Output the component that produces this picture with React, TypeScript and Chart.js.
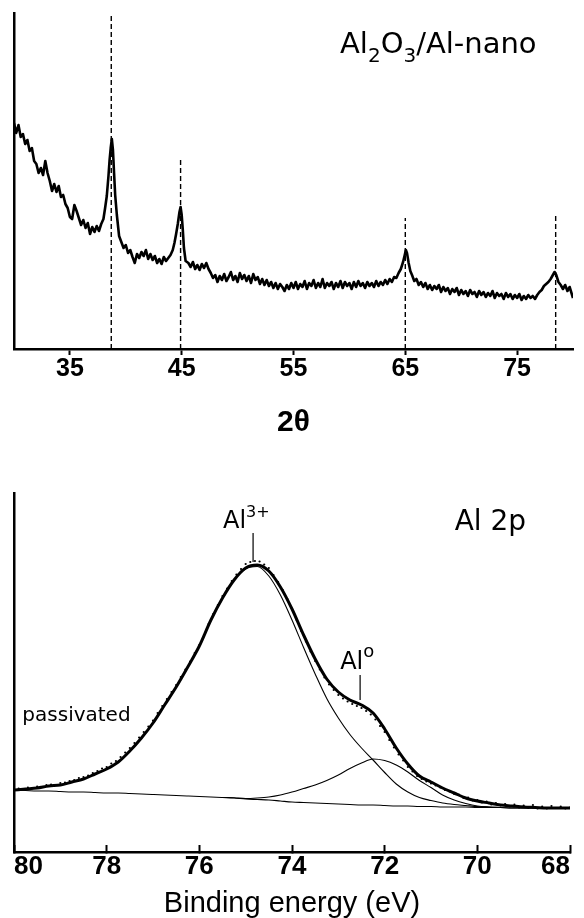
import { useEffect, useRef } from "react";
import { Chart, registerables } from "chart.js";

Chart.register(...registerables);

// ---------- XRD pattern (top) ----------
const XRD_2THETA = [
  30.0, 30.2, 30.4, 30.6, 30.8, 31.0, 31.2, 31.4, 31.6, 31.8,
  32.0, 32.2, 32.4, 32.6, 32.8, 33.0, 33.2, 33.4, 33.6, 33.8,
  34.0, 34.2, 34.4, 34.6, 34.8, 35.0, 35.2, 35.4, 35.6, 35.8,
  36.0, 36.2, 36.4, 36.6, 36.8, 37.0, 37.2, 37.4, 37.6, 37.8,
  38.0, 38.15, 38.3, 38.45, 38.55, 38.65, 38.75, 38.85, 38.95, 39.05,
  39.2, 39.4, 39.6, 39.8, 40.0, 40.2, 40.4, 40.6, 40.8, 41.0,
  41.2, 41.4, 41.6, 41.8, 42.0, 42.2, 42.4, 42.6, 42.8, 43.0,
  43.2, 43.4, 43.6, 43.8, 44.0, 44.2, 44.35, 44.5, 44.65, 44.8,
  44.9, 45.0, 45.1, 45.2, 45.35, 45.6, 45.8, 46.0, 46.2, 46.4,
  46.6, 46.8, 47.0, 47.2, 47.4, 47.6, 47.8, 48.0, 48.2, 48.4,
  48.6, 48.8, 49.0, 49.2, 49.4, 49.6, 49.8, 50.0, 50.2, 50.4,
  50.6, 50.8, 51.0, 51.2, 51.4, 51.6, 51.8, 52.0, 52.2, 52.4,
  52.6, 52.8, 53.0, 53.2, 53.4, 53.6, 53.8, 54.0, 54.2, 54.4,
  54.6, 54.8, 55.0, 55.2, 55.4, 55.6, 55.8, 56.0, 56.2, 56.4,
  56.6, 56.8, 57.0, 57.2, 57.4, 57.6, 57.8, 58.0, 58.2, 58.4,
  58.6, 58.8, 59.0, 59.2, 59.4, 59.6, 59.8, 60.0, 60.2, 60.4,
  60.6, 60.8, 61.0, 61.2, 61.4, 61.6, 61.8, 62.0, 62.2, 62.4,
  62.6, 62.8, 63.0, 63.2, 63.4, 63.6, 63.8, 64.0, 64.2, 64.4,
  64.6, 64.8, 64.95, 65.05, 65.15, 65.3, 65.45, 65.6, 65.8, 66.0,
  66.2, 66.4, 66.6, 66.8, 67.0, 67.2, 67.4, 67.6, 67.8, 68.0,
  68.2, 68.4, 68.6, 68.8, 69.0, 69.2, 69.4, 69.6, 69.8, 70.0,
  70.2, 70.4, 70.6, 70.8, 71.0, 71.2, 71.4, 71.6, 71.8, 72.0,
  72.2, 72.4, 72.6, 72.8, 73.0, 73.2, 73.4, 73.6, 73.8, 74.0,
  74.2, 74.4, 74.6, 74.8, 75.0, 75.2, 75.4, 75.6, 75.8, 76.0,
  76.2, 76.4, 76.6, 76.8, 77.0, 77.2, 77.4, 77.6, 77.8, 78.0,
  78.2, 78.35, 78.5, 78.7, 78.9, 79.1, 79.3, 79.5, 79.7, 80.0,
];
const XRD_INTENSITY = [
  226, 216, 224, 212, 215, 205, 209, 198, 201, 188,
  185, 176, 181, 174, 188, 176, 168, 158, 165, 157,
  163, 152, 154, 145, 141, 132, 130, 144, 138, 131,
  124, 129, 121, 126, 115, 122, 117, 123, 118, 125,
  130, 141, 153, 173, 189, 201, 210, 199, 176, 154,
  134, 113, 107, 101, 104, 96, 99, 92, 86, 95,
  91, 97, 93, 99, 90, 95, 89, 93, 86, 90,
  85, 92, 88, 91, 94, 99, 106, 115, 125, 137,
  142, 134, 119, 101, 88, 86, 82, 87, 80, 84,
  79, 85, 81, 86, 80, 76, 71, 74, 67, 73,
  69, 75, 68, 72, 77, 69, 73, 67, 76, 70,
  74, 68, 73, 66, 75, 69, 72, 65, 70, 64,
  69, 63, 67, 61, 66, 60, 65, 62, 58, 64,
  60, 66, 61, 67, 60, 65, 62, 68, 60, 66,
  63, 69, 61, 66, 62, 70, 61, 66, 63, 67,
  60, 66, 62, 68, 61, 67, 63, 66, 60, 67,
  62, 68, 63, 66, 61, 67, 63, 66, 62, 68,
  63, 67, 64, 69, 65, 70, 67, 72, 71, 76,
  80, 87, 94, 99, 96, 86, 78, 74, 68, 70,
  64, 67, 62, 66, 60, 64, 59, 63, 60, 64,
  57, 62, 58, 61, 55, 60, 57, 61, 54, 59,
  55, 58, 53, 59, 55, 57, 52, 58, 54, 57,
  52, 56, 53, 58, 51, 56, 53, 55, 50, 56,
  52, 55, 50, 54, 51, 55, 49, 53, 50, 54,
  51, 53, 50, 54, 57, 59, 63, 65, 67, 70,
  74, 77, 74, 67, 64, 60, 64, 58, 62, 51,
];
const XRD_TICKS = [35, 45, 55, 65, 75];
const XRD_PEAK_POS = [38.7, 44.9, 65.0, 78.45];
const XRD_PEAK_TOP = [336, 192, 131, 136];

// ---------- XPS Al 2p (bottom) ----------
const XPS_BE = [
  80, 79.75, 79.5, 79.25, 79, 78.75, 78.5, 78.25, 78, 77.75,
  77.5, 77.25, 77, 76.75, 76.5, 76.25, 76, 75.75, 75.5, 75.25,
  75, 74.75, 74.5, 74.25, 74, 73.75, 73.5, 73.25, 73, 72.75,
  72.5, 72.25, 72, 71.75, 71.5, 71.25, 71, 70.75, 70.5, 70.25,
  70, 69.75, 69.5, 69.25, 69, 68.75, 68.5, 68.25, 68,
];
const XPS_ENVELOPE = [
  62, 63, 64, 66, 67, 70, 73, 78, 83, 90,
  101, 114, 129, 147, 165, 185, 206, 232, 254, 272,
  284, 287, 281, 265, 243, 217, 193, 173, 160, 152,
  147, 139, 123, 104, 88, 76, 70, 64, 59, 54,
  51, 49, 47, 46, 45, 44.5, 44, 44, 44,
];
const XPS_AL3 = [
  62, 63, 64, 66, 67, 70, 73, 78, 83, 90,
  101, 114, 129, 147, 165, 185, 206, 232, 254, 272,
  283, 285.5, 276, 257, 232, 204.5, 178, 153.5, 134, 117.5,
  104, 92, 79.5, 68, 60, 54.5, 51.5, 49, 47.5, 46.5,
  45.5, 45, 44.5, 44, 44, 44, 44, 44, 44,
];
const XPS_BACKGROUND = [
  62, 61.5, 61, 61, 60.5, 60, 60, 59.5, 59, 59,
  58.5, 58, 57.5, 57, 56.5, 56, 55.5, 55, 54.5, 54,
  53, 52.5, 52, 51, 50, 49.5, 49, 48.5, 48, 47.5,
  47, 47, 46.5, 46, 46, 45.5, 45.5, 45, 45, 45,
  44.5, 44.5, 44.5, 44, 44, 44, 44, 44, 44,
];
const XPS_AL0_BE = [
  75.5, 75.25, 75, 74.75, 74.5, 74.25, 74, 73.75, 73.5, 73.25,
  73, 72.75, 72.5, 72.25, 72, 71.75, 71.5, 71.25, 71, 70.75,
  70.5, 70.25, 70, 69.75, 69.5,
];
const XPS_AL0 = [
  54.5, 54.3, 53.5, 54, 55, 57, 60, 63.5, 67, 71.5,
  77, 83.5, 89, 93, 91.5, 87, 80, 71.5, 64.5, 57,
  52, 48.5, 46, 45, 44.5,
];
const XPS_DATA_BE = [
  80.0, 79.9, 79.8, 79.7, 79.6, 79.5, 79.4, 79.3, 79.2, 79.1,
  79.0, 78.9, 78.8, 78.7, 78.6, 78.5, 78.4, 78.3, 78.2, 78.1,
  78.0, 77.9, 77.8, 77.7, 77.6, 77.5, 77.4, 77.3, 77.2, 77.1,
  77.0, 76.9, 76.8, 76.7, 76.6, 76.5, 76.4, 76.3, 76.2, 76.1,
  76.0, 75.9, 75.8, 75.7, 75.6, 75.5, 75.4, 75.3, 75.2, 75.1,
  75.0, 74.9, 74.8, 74.7, 74.6, 74.5, 74.4, 74.3, 74.2, 74.1,
  74.0, 73.9, 73.8, 73.7, 73.6, 73.5, 73.4, 73.3, 73.2, 73.1,
  73.0, 72.9, 72.8, 72.7, 72.6, 72.5, 72.4, 72.3, 72.2, 72.1,
  72.0, 71.9, 71.8, 71.7, 71.6, 71.5, 71.4, 71.3, 71.2, 71.1,
  71.0, 70.9, 70.8, 70.7, 70.6, 70.5, 70.4, 70.3, 70.2, 70.1,
  70.0, 69.9, 69.8, 69.7, 69.6, 69.5, 69.4, 69.3, 69.2, 69.1,
  69.0, 68.9, 68.8, 68.7, 68.6, 68.5, 68.4, 68.3, 68.2, 68.1,
  68.0,
];
const XPS_DATA = [
  63, 63.5, 62.5, 64.5, 64, 65.5, 65, 67, 67.5, 67,
  69, 69.5, 71, 72, 74, 75, 76.5, 79, 81, 83.5,
  85, 88.5, 91, 95, 99.5, 104, 109, 114.5, 120, 125.5,
  131.5, 139, 146, 153, 160, 167, 175, 182.5, 190.5, 199,
  207, 217, 228, 238, 247, 256, 263.5, 271, 277.5, 283,
  288, 290, 291, 290.5, 287.5, 284, 277, 270, 262, 253,
  243.5, 232, 221, 210.5, 200.5, 191, 182.5, 174.5, 167.5, 162,
  157, 153.5, 150.5, 148, 146, 144, 141, 137.5, 132.5, 126,
  120, 112, 104.5, 97.5, 91.5, 85, 80.5, 76, 73, 70.5,
  68.5, 66.5, 64.5, 62, 60.5, 58, 57.5, 54, 54.5, 51.5,
  52, 49.5, 50.5, 47.5, 49, 46.5, 48, 45.5, 47.5, 44.5,
  46.5, 44, 47, 43.5, 45.5, 43.5, 46, 44, 45.5, 43.5,
  44.5,
];
const XPS_TICKS = [68, 70, 72, 74, 76, 78, 80];
const XPS_MARK_BE = [74.84, 72.53];
const XPS_MARK_LOW = [290, 152];
const XPS_MARK_HIGH = [319, 177];

// ---------- styling helpers ----------
const TICK_FONT = '"Liberation Sans Narrow", "Liberation Sans", Arial, sans-serif';
const LABEL_FONT = '"DejaVu Sans", "Liberation Sans", sans-serif';
const TITLE_FONT = '"Liberation Sans", Arial, sans-serif';

type Seg = { t: string; size: number; dy: number };
type Note = { x: number; y: number; segs: Seg[] };

function notesPlugin(id: string, notes: Note[]) {
  return {
    id,
    afterDatasetsDraw(chart: any) {
      const ctx: CanvasRenderingContext2D = chart.ctx;
      const xs = chart.scales.x;
      const ys = chart.scales.y;
      ctx.save();
      ctx.fillStyle = "#000";
      ctx.textAlign = "left";
      ctx.textBaseline = "alphabetic";
      for (const n of notes) {
        let cx = xs.getPixelForValue(n.x);
        const cy = ys.getPixelForValue(n.y);
        for (const s of n.segs) {
          ctx.font = `${s.size}px ${LABEL_FONT}`;
          ctx.fillText(s.t, cx, cy + s.dy);
          cx += ctx.measureText(s.t).width;
        }
      }
      ctx.restore();
    },
  };
}

const pts = (xs: number[], ys: number[]) => xs.map((x, i) => ({ x, y: ys[i] }));

export default function App() {
  const topRef = useRef<HTMLCanvasElement>(null);
  const botRef = useRef<HTMLCanvasElement>(null);

  useEffect(() => {
    const top = new Chart(topRef.current as HTMLCanvasElement, {
      type: "line",
      data: {
        datasets: [
          {
            data: pts(XRD_2THETA, XRD_INTENSITY),
            borderColor: "#000",
            borderWidth: 2.6,
            pointRadius: 0,
            tension: 0,
            borderJoinStyle: "round",
          },
          ...XRD_PEAK_POS.map((p, i) => ({
            data: [
              { x: p, y: 0 },
              { x: p, y: XRD_PEAK_TOP[i] },
            ],
            borderColor: "#000",
            borderWidth: 1.4,
            borderDash: [5, 3],
            pointRadius: 0,
          })),
        ],
      } as any,
      options: {
        responsive: false,
        animation: false,
        devicePixelRatio: 1,
        events: [],
        layout: { padding: { top: 13, right: 11, left: 0, bottom: 0 } },
        plugins: { legend: { display: false }, tooltip: { enabled: false } },
        scales: {
          x: {
            type: "linear",
            min: 30,
            max: 80,
            afterBuildTicks: (axis: any) => {
              axis.ticks = XRD_TICKS.map((v) => ({ value: v }));
            },
            afterFit: (axis: any) => {
              axis.height = 111;
            },
            grid: {
              display: true,
              drawOnChartArea: false,
              drawTicks: true,
              tickLength: 6,
              tickWidth: 2,
              tickColor: "#000",
            },
            border: { display: true, color: "#000", width: 2.5 },
            ticks: {
              color: "#000",
              autoSkip: false,
              maxRotation: 0,
              padding: 1.5,
              font: { family: TICK_FONT, size: 25, weight: "bold", lineHeight: 1 },
            },
            title: {
              display: true,
              text: "2θ",
              color: "#000",
              font: { family: TICK_FONT, size: 30, weight: "bold", lineHeight: 1 },
              padding: { top: 0, bottom: 22 },
            },
          },
          y: {
            min: 0,
            max: 336,
            afterFit: (axis: any) => {
              axis.width = 14;
            },
            grid: { display: false },
            ticks: { display: false },
            border: { display: true, color: "#000", width: 2.5 },
          },
        },
      } as any,
      plugins: [
        notesPlugin("xrdNotes", [
          {
            x: 59.16,
            y: 296,
            segs: [
              { t: "Al", size: 29, dy: 0 },
              { t: "2", size: 20, dy: 9 },
              { t: "O", size: 29, dy: 0 },
              { t: "3", size: 20, dy: 9 },
              { t: "/Al-nano", size: 29, dy: 0 },
            ],
          },
        ]),
      ],
    });

    const thin = { borderColor: "#000", borderWidth: 1.1, pointRadius: 0, cubicInterpolationMode: "monotone" };
    const bottom = new Chart(botRef.current as HTMLCanvasElement, {
      type: "line",
      data: {
        datasets: [
          {
            data: pts(XPS_DATA_BE, XPS_DATA),
            showLine: false,
            pointRadius: 1.1,
            pointBorderWidth: 0,
            pointBackgroundColor: "#000",
            borderColor: "#000",
          },
          { data: pts(XPS_BE, XPS_BACKGROUND), ...thin },
          { data: pts(XPS_BE, XPS_AL3), ...thin },
          { data: pts(XPS_AL0_BE, XPS_AL0), ...thin },
          {
            data: pts(XPS_BE, XPS_ENVELOPE),
            borderColor: "#000",
            borderWidth: 3,
            pointRadius: 0,
            cubicInterpolationMode: "monotone",
          },
          ...XPS_MARK_BE.map((b, i) => ({
            data: [
              { x: b, y: XPS_MARK_LOW[i] },
              { x: b, y: XPS_MARK_HIGH[i] },
            ],
            borderColor: "#000",
            borderWidth: 1.2,
            pointRadius: 0,
          })),
        ],
      } as any,
      options: {
        responsive: false,
        animation: false,
        devicePixelRatio: 1,
        events: [],
        layout: { padding: { top: 33, right: 14, left: 0, bottom: 0 } },
        plugins: { legend: { display: false }, tooltip: { enabled: false } },
        scales: {
          x: {
            type: "linear",
            min: 68,
            max: 80,
            reverse: true,
            afterBuildTicks: (axis: any) => {
              axis.ticks = XPS_TICKS.map((v) => ({ value: v }));
            },
            afterFit: (axis: any) => {
              axis.height = 66;
            },
            grid: {
              display: true,
              drawOnChartArea: false,
              drawTicks: true,
              tickLength: -7,
              tickWidth: 2,
              tickColor: "#000",
            },
            border: { display: true, color: "#000", width: 2.5 },
            ticks: {
              color: "#000",
              autoSkip: false,
              maxRotation: 0,
              align: "inner",
              padding: 9,
              font: { family: TICK_FONT, size: 26, weight: "bold", lineHeight: 1 },
            },
            title: {
              display: true,
              text: "Binding energy (eV)",
              color: "#000",
              font: { family: TITLE_FONT, size: 29, lineHeight: 1 },
              padding: { top: 0, bottom: 0 },
            },
          },
          y: {
            min: 0,
            max: 359,
            afterFit: (axis: any) => {
              axis.width = 14;
            },
            grid: { display: false },
            ticks: { display: false },
            border: { display: true, color: "#000", width: 2.5 },
          },
        },
      } as any,
      plugins: [
        notesPlugin("xpsNotes", [
          {
            x: 75.49,
            y: 324,
            segs: [
              { t: "Al", size: 24, dy: 0 },
              { t: "3+", size: 16, dy: -11 },
            ],
          },
          {
            x: 72.96,
            y: 183,
            segs: [
              { t: "Al", size: 24, dy: 0 },
              { t: "o", size: 18, dy: -12 },
            ],
          },
          { x: 70.49, y: 322, segs: [{ t: "Al 2p", size: 28, dy: 0 }] },
          { x: 79.82, y: 131, segs: [{ t: "passivated", size: 20, dy: 0 }] },
        ]),
      ],
    });

    return () => {
      top.destroy();
      bottom.destroy();
    };
  }, []);

  return (
    <div style={{ position: "fixed", left: 0, top: 0, width: 584, height: 918, background: "#fff" }}>
      <canvas ref={topRef} width={584} height={460} style={{ position: "absolute", left: 0, top: 0 }} />
      <canvas ref={botRef} width={584} height={458} style={{ position: "absolute", left: 0, top: 460 }} />
    </div>
  );
}
